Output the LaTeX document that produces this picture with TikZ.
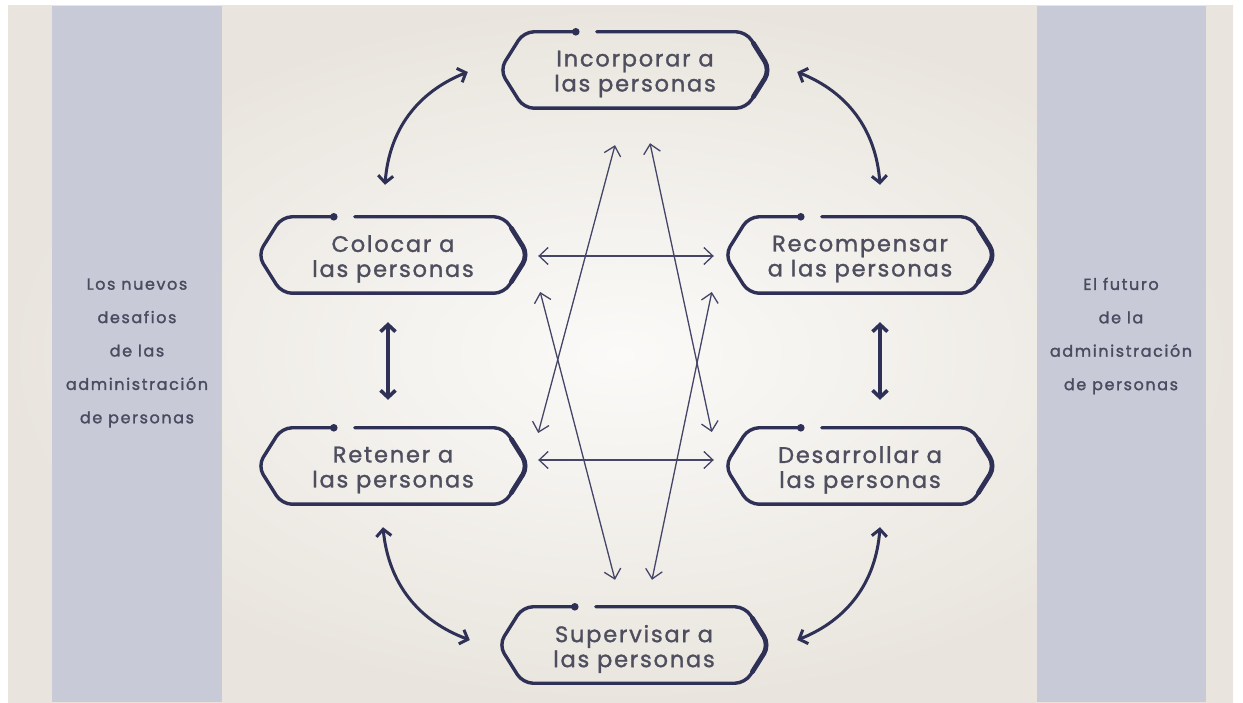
\documentclass[tikz,border=0pt]{standalone}
\usepackage{fontspec}
\setmainfont{Poppins}
\newfontfamily\sidefont[LetterSpace=10,FakeBold=1.6]{Poppins}
\newfontfamily\boxfont[LetterSpace=8,FakeBold=1.3]{Poppins}
\usetikzlibrary{arrows.meta,calc}
\definecolor{navy}{HTML}{2F3056}
\definecolor{boxtext}{HTML}{4E4E5E}
\definecolor{sidetext}{HTML}{4A4B60}
\definecolor{bgin}{HTML}{FBFAF8}
\definecolor{bgout}{HTML}{E9E5DE}
\definecolor{band}{HTML}{C9CAD8}
\newcommand\hexframe[1]{%
  \draw[frame] ([xshift=97]#1.north west) -- ([xshift=-24]#1.north east) -- (#1.east)
    -- ([xshift=-24]#1.south east) -- ([xshift=24]#1.south west) -- (#1.west)
    -- ([xshift=24]#1.north west) -- ([xshift=76]#1.north west);
  \draw[frame, line width=4.8pt] ($([xshift=-24]#1.north east)!0.3!(#1.east)$) -- (#1.east)
    -- ($([xshift=-24]#1.south east)!0.3!(#1.east)$);
  \fill[navy] ([xshift=76]#1.north west) circle (3.8);}
\begin{document}
\begin{tikzpicture}[x=1pt,y=1pt,
  box/.style={minimum width=270pt, minimum height=76pt, inner sep=0pt},
  boxtxt/.style={inner sep=0pt, align=center, text=boxtext, font=\boxfont\fontsize{22.5}{25}\selectfont},
  frame/.style={draw=navy, line width=3.4pt, rounded corners=10pt, line cap=round},
  side/.style={align=center, text=sidetext, font=\sidefont\fontsize{16}{33.4}\selectfont},
  thickarr/.style={navy, line width=3pt, {Straight Barb[length=7pt,width=15pt]}-{Straight Barb[length=7pt,width=15pt]}},
  thinarr/.style={navy!90, line width=1.3pt, {Straight Barb[length=9pt,width=17pt]}-{Straight Barb[length=9pt,width=17pt]}}]
\useasboundingbox (0,0) rectangle (1243,702);
\fill[white] (0,0) rectangle (1243,702);
\shade[inner color=bgin, outer color=bgout] (8,0) rectangle (1233,696);
\fill[band] (52,0) rectangle (222,696);
\fill[band] (1037,0) rectangle (1206,696);

\node[side] (lt) at (137,349) {Los nuevos\\desafios\\de las\\administración\\de personas};
\node[side] (rt) at (1121,366) {El futuro\\de la\\administración\\de personas};

\node[box] (inc) at (635,632) {};
\node[box] (col) at (393,447) {};
\node[box] (rec) at (860,447) {};
\node[box] (ret) at (393,236) {};
\node[box] (des) at (860,236) {};
\node[box] (sup) at (634,57) {};
\foreach \n in {inc,col,rec,ret,des,sup} {\hexframe{\n}}
\node[boxtxt] (incT) at ([yshift=-4]inc.center) {Incorporar a\\las personas};
\node[boxtxt] (colT) at ([yshift=-4]col.center) {Colocar a\\las personas};
\node[boxtxt] (recT) at ([yshift=-4]rec.center) {Recompensar\\a las personas};
\node[boxtxt] (retT) at ([yshift=-4]ret.center) {Retener a\\las personas};
\node[boxtxt] (desT) at ([yshift=-4]des.center) {Desarrollar a\\las personas};
\node[boxtxt] (supT) at ([yshift=-4]sup.center) {Supervisar a\\las personas};

% curved arrows
\draw[thickarr] ([shift={(-32,-2)}]inc.west) to[bend right=32] ([shift={(-8,32)}]col.north);
\draw[thickarr] ([shift={(27,-2)}]inc.east) to[bend left=32] ([shift={(20,32)}]rec.north);
\draw[thickarr] ([shift={(-10,-23)}]ret.south) to[bend right=32] ([shift={(-29,5)}]sup.west);
\draw[thickarr] ([shift={(20,-23)}]des.south) to[bend left=32] ([shift={(28,5)}]sup.east);
% vertical arrows
\draw[thickarr, line width=3.6pt] ([shift={(-5,-29)}]col.south) -- ([shift={(-5,28)}]ret.north);
\draw[thickarr, line width=3.6pt] ([shift={(20,-29)}]rec.south) -- ([shift={(20,28)}]des.north);
% horizontal arrows
\draw[thinarr] ([shift={(10,-1)}]col.east) -- ([shift={(-11,-1)}]rec.west);
\draw[thinarr] ([shift={(10,6)}]ret.east) -- ([shift={(-11,6)}]des.west);
% diagonals
\draw[thinarr] ([shift={(-20,-37)}]inc.south) -- ([shift={(10,33)}]ret.east);
\draw[thinarr] ([shift={(15,-35)}]inc.south) -- ([shift={(-13,34)}]des.west);
\draw[thinarr] ([shift={(12,-37)}]col.east) -- ([shift={(-19,27)}]sup.north);
\draw[thinarr] ([shift={(-13,-37)}]rec.west) -- ([shift={(18,27)}]sup.north);
\end{tikzpicture}
\end{document}
